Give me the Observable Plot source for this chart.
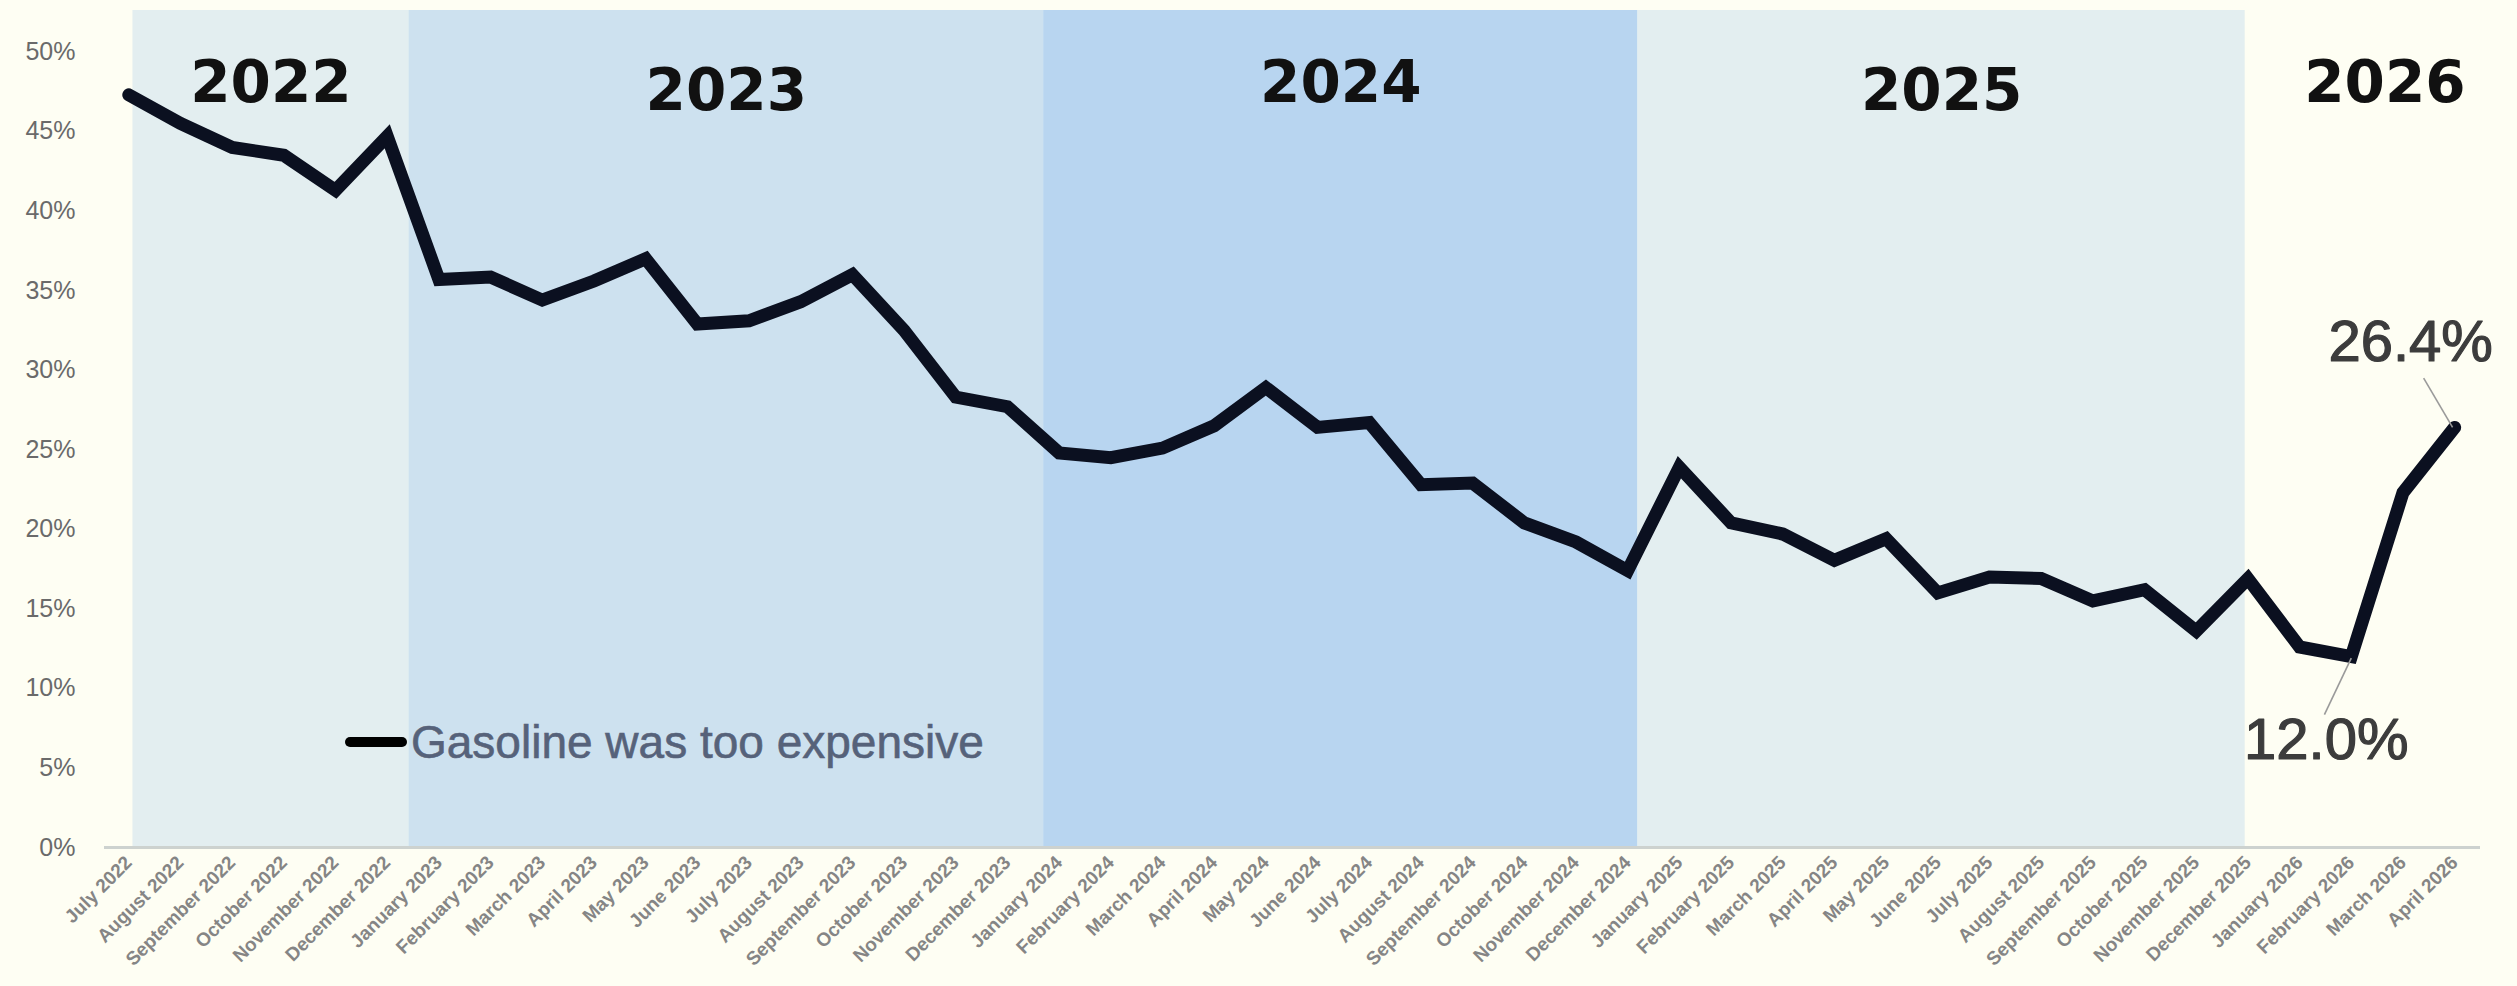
<!DOCTYPE html>
<html>
<head>
<meta charset="utf-8">
<script src="https://cdn.jsdelivr.net/npm/d3@7"></script>
<script src="https://cdn.jsdelivr.net/npm/@observablehq/plot@0.6"></script>
<style>
  html, body { margin: 0; padding: 0; background: #fefef3; }
  #wrap { position: relative; width: 2517px; height: 986px; }
  #legend { position: absolute; left: 345px; top: 712px; height: 60px; display: flex; align-items: center; }
  #legend .swatch { width: 62px; height: 10px; background: #000; border-radius: 5px; }
  #legend .label { margin-left: 4px; font: 46px "Liberation Sans", Arial, sans-serif; color: #56627a; line-height: 60px; -webkit-text-stroke: 0.6px #56627a; }
</style>
</head>
<body>
<div id="wrap">
  <div id="legend"><span class="swatch"></span><span class="label">Gasoline was too expensive</span></div>
</div>
<script>
const months = [
  "July 2022","August 2022","September 2022","October 2022","November 2022","December 2022",
  "January 2023","February 2023","March 2023","April 2023","May 2023","June 2023",
  "July 2023","August 2023","September 2023","October 2023","November 2023","December 2023",
  "January 2024","February 2024","March 2024","April 2024","May 2024","June 2024",
  "July 2024","August 2024","September 2024","October 2024","November 2024","December 2024",
  "January 2025","February 2025","March 2025","April 2025","May 2025","June 2025",
  "July 2025","August 2025","September 2025","October 2025","November 2025","December 2025",
  "January 2026","February 2026","March 2026","April 2026"
];
const values = [
  47.3, 45.5, 44.0, 43.5, 41.3, 44.7,
  35.7, 35.85, 34.4, 35.6, 37.0, 32.9, 33.1, 34.3, 36.0, 32.5, 28.3, 27.7,
  24.8, 24.5, 25.1, 26.5, 28.9, 26.4, 26.7, 22.8, 22.9, 20.4, 19.2, 17.4,
  23.9, 20.4, 19.7, 18.05, 19.4, 16.0, 17.0, 16.9, 15.5, 16.2, 13.6, 16.9,
  12.6, 12.0, 22.3, 26.4
];
const seriesName = "Gasoline was too expensive";
const years = ["2022", "2023", "2024", "2025", "2026"];
const bandStart = [0.08, 5.42, 17.7, 29.2, 40.95];
const bandEnd = [5.42, 17.7, 29.2, 40.95, 46.35];
const bandColors = ["#e3eef0", "#cde1ef", "#b8d5f0", "#e3eef0", "#fefef3"];
const yTicks = [0, 5, 10, 15, 20, 25, 30, 35, 40, 45, 50];

const yMax = 52.6;
const bands = years.map((y, i) => ({year: y, x1: bandStart[i], x2: bandEnd[i], color: bandColors[i], k: i}));
const points = values.map((v, i) => ({i, v, month: months[i]}));
const lastIdx = values.length - 1;
const minIdx = d3.minIndex(values);

const chart = Plot.plot({
  width: 2517,
  height: 986,
  marginLeft: 104,
  marginRight: 37,
  marginTop: 10,
  marginBottom: 139,
  style: {background: "transparent", fontFamily: "Liberation Sans, Arial, sans-serif", overflow: "visible"},
  x: {type: "linear", domain: [-0.47, 45.5], axis: null},
  y: {domain: [0, yMax], axis: null},
  marks: [
    Plot.rect(bands, {x1: "x1", x2: "x2", y1: () => 0, y2: () => yMax, fill: "color"}),
    Plot.ruleY([0], {stroke: "#cdd2cf", strokeWidth: 3}),
    Plot.axisY({ticks: yTicks, label: null, tickSize: 0, tickPadding: 29, tickFormat: d => d + "%", fontSize: 25, fill: "#6a6a6a"}),
    Plot.axisX({ticks: d3.range(months.length), label: null, tickSize: 0, tickPadding: 12, tickRotate: -45,
      tickFormat: i => months[i], fontSize: 19, fontWeight: "bold", fill: "#858585"}),
    Plot.text(bands.filter(b => b.k % 2 === 0), {x: b => (b.x1 + b.x2) / 2, text: "year", frameAnchor: "top", lineAnchor: "bottom", dy: 91,
      fontSize: 58, fontWeight: "bold", fontFamily: "DejaVu Sans", fill: "#111"}),
    Plot.text(bands.filter(b => b.k % 2 === 1), {x: b => (b.x1 + b.x2) / 2, text: "year", frameAnchor: "top", lineAnchor: "bottom", dy: 99,
      fontSize: 58, fontWeight: "bold", fontFamily: "DejaVu Sans", fill: "#111"}),
    Plot.line(points, {x: "i", y: "v", stroke: "#0b1020", strokeWidth: 13, strokeLinejoin: "miter", strokeMiterlimit: 2.5, strokeLinecap: "round"}),
    Plot.link([points[lastIdx]], {x1: d => d.i - 0.04, y1: d => d.v, x2: d => d.i - 0.6, y2: d => d.v + 3.1, stroke: "#9a9a9a", strokeWidth: 1.6}),
    Plot.link([points[minIdx]], {x1: d => d.i, y1: d => d.v - 0.1, x2: d => d.i - 0.52, y2: d => d.v - 3.65, stroke: "#9a9a9a", strokeWidth: 1.6}),
    Plot.text([points[lastIdx]], {x: "i", y: "v", text: d => d.v.toFixed(1) + "%", dx: -44, dy: -85, fontSize: 58, fill: "#3c3c3c", stroke: "#3c3c3c", strokeWidth: 1.2}),
    Plot.text([points[minIdx]], {x: "i", y: "v", text: d => d.v.toFixed(1) + "%", dx: -25, dy: 84, fontSize: 58, fill: "#3c3c3c", stroke: "#3c3c3c", strokeWidth: 1.2})
  ]
});
const wrap = document.getElementById("wrap");
wrap.insertBefore(chart, wrap.firstChild);
</script>
</body>
</html>
